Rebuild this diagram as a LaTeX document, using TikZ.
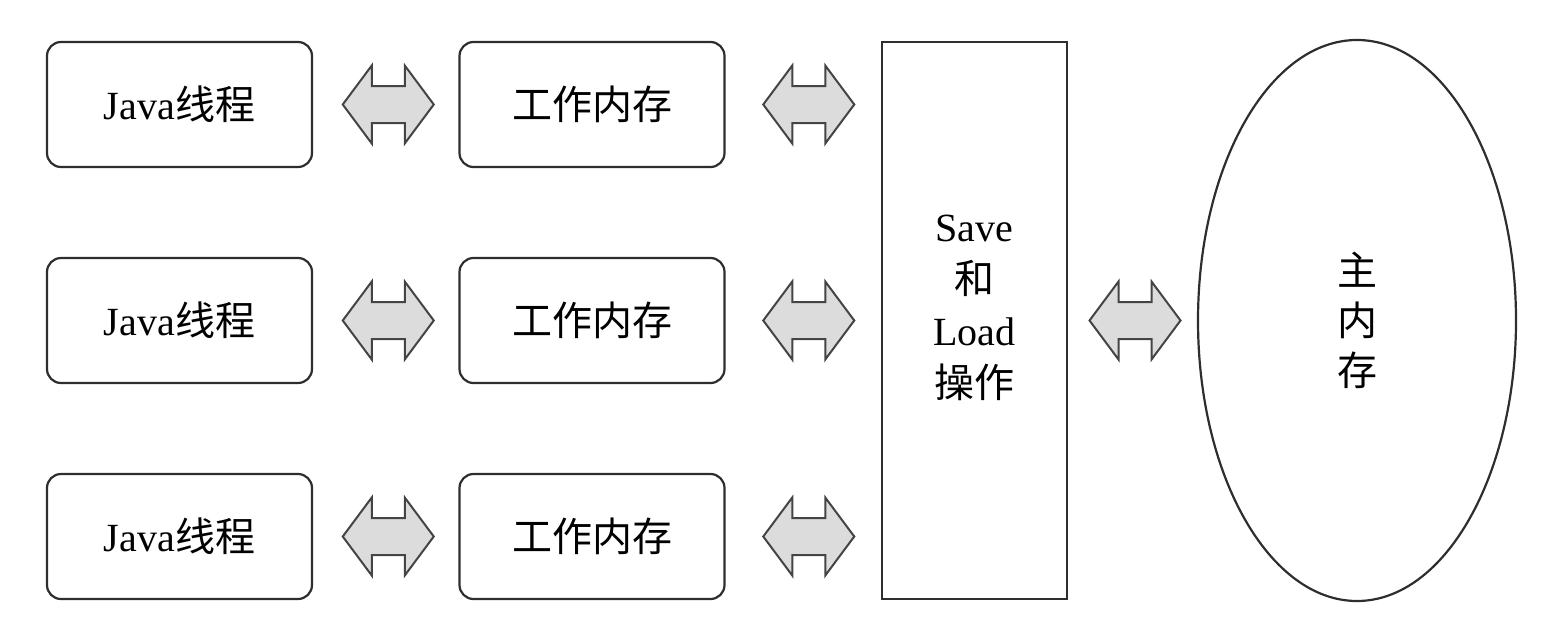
\documentclass[tikz,border=0pt]{standalone}
\usepackage{fontspec}
\setmainfont{Liberation Serif}
\newfontfamily\cjk{Noto Sans CJK SC}
\usetikzlibrary{shapes.geometric,calc}
\definecolor{edge}{HTML}{2E2E2E}
\definecolor{arrfill}{HTML}{DCDCDC}
\definecolor{arredge}{HTML}{444444}
\tikzset{
  rbox/.style={draw=edge, line width=2.2pt, rounded corners=14pt, minimum width=265pt, minimum height=125pt, inner sep=0pt, font=\fontsize{40}{52}\selectfont},
  slbox/.style={draw=edge, line width=2.2pt, minimum width=185pt, minimum height=557pt, inner sep=0pt},
  sltext/.style={align=center, inner sep=0pt, font=\fontsize{40}{52}\selectfont},
  mainmem/.style={draw=edge, line width=2.2pt, ellipse, minimum width=318pt, minimum height=561pt, inner sep=0pt, align=center, font=\fontsize{40}{50}\selectfont},
  dblarr/.pic={\draw[fill=arrfill, draw=arredge, line width=2pt, line join=miter]
    (-45.5,0) -- (-16.5,-39) -- (-16.5,-18.5) -- (16.5,-18.5) -- (16.5,-39) -- (45.5,0)
    -- (16.5,39) -- (16.5,18.5) -- (-16.5,18.5) -- (-16.5,39) -- cycle;}
}
\begin{document}
\begin{tikzpicture}[x=1pt,y=-1pt]
\useasboundingbox (0,0) rectangle (1562,626);
\node[rbox] (j1) at (179.5,104.5) {Java{\cjk 线程}};
\node[rbox] (j2) at (179.5,320.5) {Java{\cjk 线程}};
\node[rbox] (j3) at (179.5,536.5) {Java{\cjk 线程}};
\node[rbox] (w1) at (592,104.5) {\cjk 工作内存};
\node[rbox] (w2) at (592,320.5) {\cjk 工作内存};
\node[rbox] (w3) at (592,536.5) {\cjk 工作内存};
\node[slbox] (sl) at (974.5,320.5) {};
\node[sltext] (slt) at ($(sl.center)+(0,-13)$) {Save\\{\cjk 和}\\Load\\{\cjk 操作}};
\node[mainmem] (mm) at (1357,320.5) {{\cjk 主}\\{\cjk 内}\\{\cjk 存}};
\foreach \r in {1,2,3}{
  \pic at ($(j\r.east)!0.5!(w\r.west)+(2.5,0)$) {dblarr};
  \pic at ($(w\r.east)!0.5!(sl.west |- w\r.east)+(5.5,0)$) {dblarr};
}
\pic at ($(sl.east)!0.5!(mm.west)+(2.5,0)$) {dblarr};
\end{tikzpicture}
\end{document}
